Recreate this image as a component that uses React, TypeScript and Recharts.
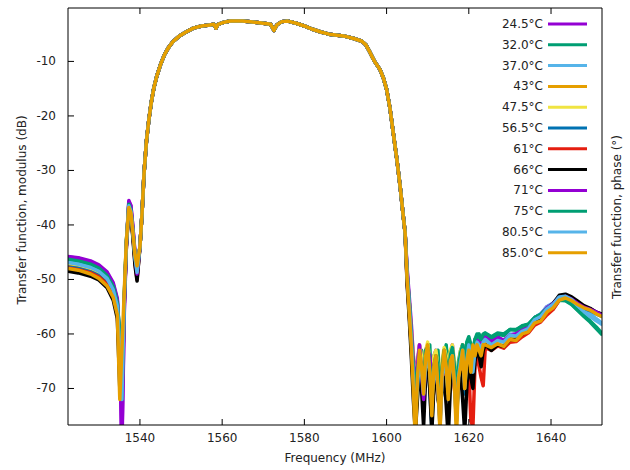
import { Legend, Line, LineChart, XAxis, YAxis } from "recharts";

const temps = ["24.5°C", "32.0°C", "37.0°C", "43°C", "47.5°C", "56.5°C", "61°C", "66°C", "71°C", "75°C", "80.5°C", "85.0°C"];
const colors = ["#9400d3", "#009e73", "#56b4e9", "#e69f00", "#f0e442", "#0072b2", "#e51e10", "#000000", "#9400d3", "#009e73", "#56b4e9", "#e69f00"];

const xTicks = [1540, 1560, 1580, 1600, 1620, 1640];
const yTicks = [-70, -60, -50, -40, -30, -20, -10];

// low stopband, spurious peak and notch (differs per temperature)
const lowFreq = [1522.5, 1525, 1528, 1530, 1532, 1533.5, 1534.5, 1535.1, 1535.6, 1536.2, 1536.7, 1537.3, 1537.8, 1538.3, 1538.8, 1539.3];
const lowDb = [
  [-45.8, -46.0, -46.6, -47.3, -48.6, -50.6, -53.5, -62, -82, -56, -44, -35.8, -36.5, -40.5, -45, -48.5], // 24.5
  [-46.2, -46.5, -47.1, -47.8, -49.1, -51.1, -54.0, -61, -74, -54, -43.5, -36.0, -37.0, -41.0, -45.5, -48.0], // 32
  [-46.7, -47.0, -47.6, -48.3, -49.6, -51.6, -54.6, -62, -73, -54, -43.5, -36.3, -37.3, -41.3, -46, -48.5], // 37
  [-47.4, -47.7, -48.3, -49.0, -50.4, -52.5, -55.6, -66, -72, -53, -43, -36.6, -37.6, -41.5, -46, -48.5], // 43
  [-47.0, -47.3, -47.9, -48.6, -50.0, -52.0, -55.1, -64, -72, -53, -43, -36.7, -37.7, -41.7, -46.2, -48.8], // 47.5
  [-47.7, -48.0, -48.6, -49.3, -50.7, -52.8, -56.0, -66, -72, -53.5, -43.5, -36.8, -37.8, -42, -46.5, -49.5], // 56.5
  [-47.9, -48.2, -48.8, -49.5, -50.9, -53.0, -56.2, -67, -72, -54, -44, -37.0, -38, -42.2, -47, -50.0], // 61
  [-48.5, -48.8, -49.4, -50.1, -51.5, -53.8, -57.2, -70, -72, -54, -44, -37.2, -38.2, -42.5, -47.5, -50.3], // 66
  [-45.9, -46.1, -46.8, -47.5, -48.8, -50.9, -53.8, -63, -80, -55, -43.5, -35.5, -36.4, -40.5, -45.5, -49.0], // 71
  [-46.3, -46.6, -47.2, -47.9, -49.3, -51.3, -54.3, -60, -72, -53, -43, -36.2, -37.2, -41.2, -45.8, -48.3], // 75
  [-46.9, -47.2, -47.8, -48.5, -49.8, -51.9, -54.9, -63, -72, -53.5, -43.5, -36.5, -37.5, -41.5, -46, -48.7], // 80.5
  [-48.0, -48.3, -49.0, -49.8, -51.2, -53.3, -56.5, -72.0, -63, -52, -43, -36.8, -37.8, -41.5, -45.5, -47.5], // 85
];

// passband, all curves overlap here
const passFreq = [1540.0, 1540.5, 1541.0, 1541.6, 1542.2, 1542.8, 1543.4, 1544.1, 1545.0, 1546.0, 1547.0, 1548.0, 1549.5, 1551.0, 1553.0, 1555.0, 1557.0, 1558.0, 1558.5, 1559.0, 1560.5, 1562.0, 1565.0, 1568.0, 1570.0, 1571.8, 1572.6, 1573.3, 1574.5, 1576.0, 1578.0, 1580.0, 1582.0, 1584.0, 1586.0, 1588.0, 1590.0, 1592.0, 1594.0, 1595.0, 1596.0, 1597.0, 1598.4, 1599.2, 1600.0, 1600.8, 1601.6, 1602.5, 1603.3, 1604.0, 1604.5];
const passDb = [-44, -38, -30.5, -24.5, -20.5, -17.3, -14.8, -12.7, -10.6, -8.7, -7.4, -6.4, -5.4, -4.7, -3.9, -3.5, -3.3, -3.2, -3.9, -3.2, -2.8, -2.6, -2.6, -2.8, -3.0, -3.2, -4.3, -3.3, -2.7, -2.6, -3.0, -3.5, -4.1, -4.6, -5.0, -5.2, -5.4, -5.8, -6.3, -7.0, -8.4, -9.9, -11.5, -13.0, -15.1, -18.5, -23, -28, -33, -38, -41.4];

// high stopband, noisy
const highFreq = [
  1605, 1605.5, 1606, 1606.5, 1607, 1607.5, 1608, 1608.5, 1609, 1609.5,
  1610, 1610.5, 1611, 1611.5, 1612, 1612.5, 1613, 1613.5, 1614, 1614.5,
  1615, 1615.5, 1616, 1616.5, 1617, 1617.5, 1618, 1618.5, 1619, 1619.5,
  1620, 1620.5, 1621, 1621.5, 1622, 1622.5, 1623, 1623.5, 1624,
  1625.5, 1627, 1628.5, 1630, 1631.5, 1633, 1634.5, 1636, 1637.5, 1639, 1640.5, 1642, 1643.5, 1645, 1646.5, 1648, 1649.5, 1651, 1652.5,
];
const highDb = [
  [ // 24.5
    -48, -53, -58, -64, -68, -65, -62, -64, -66, -63,
    -62, -65, -70, -64, -63, -67, -74, -66, -63, -65,
    -69, -64, -62, -66, -72, -66, -64, -62, -68, -63,
    -61.5, -64, -66, -62, -61, -62, -63, -61, -60.5,
    -61.5, -60.5, -61.2, -60.2, -60, -59, -58.8, -57, -56.4, -55, -54.4, -53.2, -53, -53.5, -54.3, -55, -55.4, -56, -56.5,
  ],
  [ // 32
    -49, -54, -60, -66, -72, -68, -65, -63, -68, -64,
    -63, -62, -71, -66, -65, -63, -70, -67, -64, -62,
    -67, -63, -63, -66, -70, -65, -63, -62, -67, -62,
    -61, -62, -64, -61, -60.5, -60, -61.5, -60.5, -60,
    -61, -60, -60.3, -59.2, -59.3, -58.5, -58.2, -57, -56.4, -55.3, -54.6, -53.6, -53.7, -54.5, -55.6, -56.6, -57.6, -58.7, -60,
  ],
  [ // 37
    -49.5, -55, -61, -68, -74, -69, -64, -67, -70, -65,
    -64, -68, -73, -67, -66, -69, -76, -68, -65, -67,
    -70, -66, -64, -68, -75, -69, -66, -64, -69, -64,
    -62, -65, -67, -63, -61.5, -62, -63, -62, -61,
    -62, -61, -61.4, -60, -60.2, -59, -58.6, -57, -56.3, -55, -54.3, -53.2, -53.1, -53.6, -54.6, -55.4, -56.2, -57.2, -58.1,
  ],
  [ // 43
    -50, -56, -63, -70, -78, -70, -65, -68, -72, -66,
    -64, -69, -74, -67, -66, -70, -77, -68, -65, -67,
    -71, -66, -64, -70, -76, -69, -66, -64, -70, -65,
    -62.5, -65, -67, -63, -62, -62.5, -63.5, -62, -61.5,
    -62.5, -61.6, -62, -60.8, -61, -59.8, -59.2, -57.6, -57.2, -55.8, -55, -53.6, -53.3, -53.8, -54.6, -55.2, -55.6, -56.2, -56.7,
  ],
  [ // 47.5
    -49, -54, -59, -64, -70, -66, -62, -64, -67, -63,
    -61.5, -65, -69, -64, -63, -66, -72, -65, -62.5, -64,
    -67, -63, -62, -65, -71, -66, -63, -62, -68, -63,
    -62, -64, -66, -63, -61.5, -62, -63, -61.5, -61,
    -62, -61.5, -61.6, -60.5, -60.6, -59.8, -59.4, -57.9, -57.2, -55.8, -54.9, -53.4, -53.2, -53.7, -54.6, -55.2, -55.6, -56.2, -56.7,
  ],
  [ // 56.5
    -50, -56, -62, -69, -76, -71, -66, -69, -73, -67,
    -65, -70, -77, -69, -67, -71, -75, -69, -66, -68,
    -72, -67, -65, -69, -74, -70, -67, -65, -71, -66,
    -63, -66, -68, -64, -62, -63, -64, -62.5, -62,
    -62.5, -62, -62.2, -61, -61.2, -60.2, -59.6, -58.2, -57.6, -56.2, -55.4, -53.8, -53.3, -53.8, -54.6, -55.3, -55.7, -56.3, -56.8,
  ],
  [ // 61
    -50.5, -56, -62, -68, -75, -70, -65, -68, -72, -67,
    -66, -69, -74, -70, -68, -71, -73, -69, -67, -69,
    -71, -67, -66, -70, -73, -70, -68, -66, -70, -67,
    -66, -76, -77, -66, -64, -66, -68, -69.5, -62.5,
    -63, -62.2, -62.6, -61.5, -61.4, -60.5, -59.8, -58.4, -57.8, -56.5, -55.5, -53.8, -53.2, -53.6, -54.5, -55.1, -55.5, -56.1, -56.6,
  ],
  [ // 66
    -51, -57, -64, -72, -78, -72, -67, -70, -77, -68,
    -64, -70, -78, -70, -66, -72, -74, -70, -68, -73,
    -79, -70, -65, -68, -72, -70, -67, -72, -78, -70,
    -64, -68, -70, -65, -63, -64, -66, -63, -62,
    -63, -62, -62.3, -61, -61, -60, -59.4, -57.6, -57, -55.4, -54.4, -52.9, -52.7, -53.2, -54, -54.8, -55.3, -56, -56.4,
  ],
  [ // 71
    -48.5, -54, -59, -65, -70, -66, -62, -67, -72, -65,
    -63, -64, -68, -66, -65, -70, -76, -67, -64, -66,
    -70, -65, -63, -67, -73, -67, -65, -63, -69, -64,
    -61.8, -64, -66, -62.5, -61.2, -61.5, -62.5, -61, -60.6,
    -61.4, -60.8, -61.2, -60.2, -60, -59.2, -58.8, -57.2, -56.5, -55.2, -54.5, -53.3, -53.1, -53.6, -54.4, -55.1, -55.5, -56, -56.6,
  ],
  [ // 75
    -49, -54, -60, -66, -71, -67, -64, -66, -69, -63,
    -62.5, -66, -72, -66, -64, -66, -71, -66, -63, -65,
    -68, -64, -62.5, -66, -71, -66, -63.5, -62, -66, -61.5,
    -60.5, -62, -63, -61, -60, -60.5, -61, -60, -59.8,
    -60.5, -59.8, -60, -59.2, -59.2, -58.6, -58.2, -57, -56.4, -55.4, -54.7, -53.8, -53.9, -54.6, -55.7, -56.8, -57.8, -59, -60.2,
  ],
  [ // 80.5
    -49.5, -55, -61, -68, -75, -70, -64.5, -67, -71, -66,
    -64, -67, -72, -68, -65.5, -70, -77, -68, -65, -67,
    -71, -66, -64, -69, -76, -68, -65, -63, -70, -65,
    -62, -65, -67, -63, -61.5, -62, -63, -61.5, -61,
    -62, -61.2, -61.5, -60.2, -60.4, -59.5, -59, -57.4, -56.8, -55.4, -54.6, -53.2, -53.1, -53.7, -54.8, -55.9, -56.8, -57.6, -58.3,
  ],
  [ // 85
    -50, -56, -62, -70, -80, -68, -63, -66, -71, -64,
    -62, -67, -75, -66, -64, -70, -78, -67, -63, -66,
    -72, -65, -64, -69, -79, -68, -66, -63, -70, -65,
    -63, -67, -62, -64, -62, -63, -64, -62, -62,
    -62.5, -61.8, -62.3, -61, -61.2, -60, -59.6, -58, -57.6, -56, -55.2, -53.8, -53.4, -53.9, -54.6, -55.2, -55.6, -56.3, -56.8,
  ],
];

const font = "DejaVu Sans, sans-serif";
const ink = "#222";

const series = temps.map((name, i) => ({
  name,
  color: colors[i],
  points: [
    ...lowFreq.map((f, k) => ({ f, db: lowDb[i][k] })),
    ...passFreq.map((f, k) => ({ f, db: passDb[k] })),
    ...highFreq.map((f, k) => ({ f, db: highDb[i][k] })),
  ],
}));

const BottomTick = ({ x, y, payload }: any) => (
  <g>
    <line x1={x} x2={x} y1={y} y2={y - 6} stroke="#000" />
    <text x={x} y={y + 17} textAnchor="middle" fontSize={12} fontFamily={font} fill={ink}>
      {payload.value}
    </text>
  </g>
);

const TopTick = ({ x, y }: any) => <line x1={x} x2={x} y1={y} y2={y + 6} stroke="#000" />;

const LeftTick = ({ x, y, payload }: any) => (
  <g>
    <line x1={x} x2={x + 6} y1={y} y2={y} stroke="#000" />
    <text x={x - 12} y={y + 4} textAnchor="end" fontSize={12} fontFamily={font} fill={ink}>
      {payload.value}
    </text>
  </g>
);

const LegendBox = () => (
  <svg width={150} height={275}>
    {series.map((s, i) => {
      const cy = 14 + i * 20.8;
      return (
        <g key={s.name}>
          <text x={63} y={cy + 4} textAnchor="end" fontSize={12} fontFamily={font} fill={ink}>
            {s.name}
          </text>
          <line x1={68} x2={107} y1={cy} y2={cy} stroke={s.color} strokeWidth={3} />
        </g>
      );
    })}
  </svg>
);

export default function App() {
  return (
    <div style={{ position: "absolute", left: 0, top: 0, width: 630, height: 470, background: "#fff" }}>
      <LineChart width={630} height={470} margin={{ top: 7, right: 0, left: 0, bottom: 0 }}>
        <XAxis
          dataKey="f"
          type="number"
          domain={[1522.5, 1652.4]}
          ticks={xTicks}
          allowDataOverflow
          height={45}
          stroke="#000"
          tickSize={0}
          tickMargin={0}
          tick={<BottomTick />}
          label={() => (
            <text x={335} y={462} textAnchor="middle" fontSize={12} fontFamily={font} fill={ink}>
              Frequency (MHz)
            </text>
          )}
        />
        <XAxis
          xAxisId="top"
          dataKey="f"
          orientation="top"
          type="number"
          domain={[1522.5, 1652.4]}
          ticks={xTicks}
          allowDataOverflow
          height={1}
          stroke="#000"
          tickSize={0}
          tickMargin={0}
          tick={<TopTick />}
        />
        <YAxis
          type="number"
          domain={[-76.7, -0.2]}
          ticks={yTicks}
          allowDataOverflow
          width={68}
          stroke="#000"
          tickSize={0}
          tickMargin={0}
          tick={<LeftTick />}
          label={() => (
            <text x={26} y={210} transform="rotate(-90 26 210)" textAnchor="middle" fontSize={12} fontFamily={font} fill={ink}>
              Transfer function, modulus (dB)
            </text>
          )}
        />
        <YAxis
          yAxisId="right"
          orientation="right"
          type="number"
          domain={[0, 1]}
          width={28}
          stroke="#000"
          tick={false}
          tickLine={false}
          label={() => (
            <text x={621} y={217} transform="rotate(-90 621 217)" textAnchor="middle" fontSize={12} fontFamily={font} fill={ink}>
              Transfer function, phase (°)
            </text>
          )}
        />
        <Legend
          layout="horizontal"
          align="center"
          verticalAlign="middle"
          content={<LegendBox />}
          wrapperStyle={{ left: 480, top: 10, width: 150, height: 275 }}
        />
        {/* keeps the mirrored top axis bound to data */}
        <Line
          xAxisId="top"
          data={series[11].points}
          dataKey="db"
          stroke="none"
          dot={false}
          legendType="none"
          isAnimationActive={false}
        />
        {series.map((s) => (
          <Line
            key={s.name}
            data={s.points}
            dataKey="db"
            name={s.name}
            type="linear"
            stroke={s.color}
            strokeWidth={3.5}
            strokeLinejoin="round"
            dot={false}
            isAnimationActive={false}
          />
        ))}
      </LineChart>
    </div>
  );
}
